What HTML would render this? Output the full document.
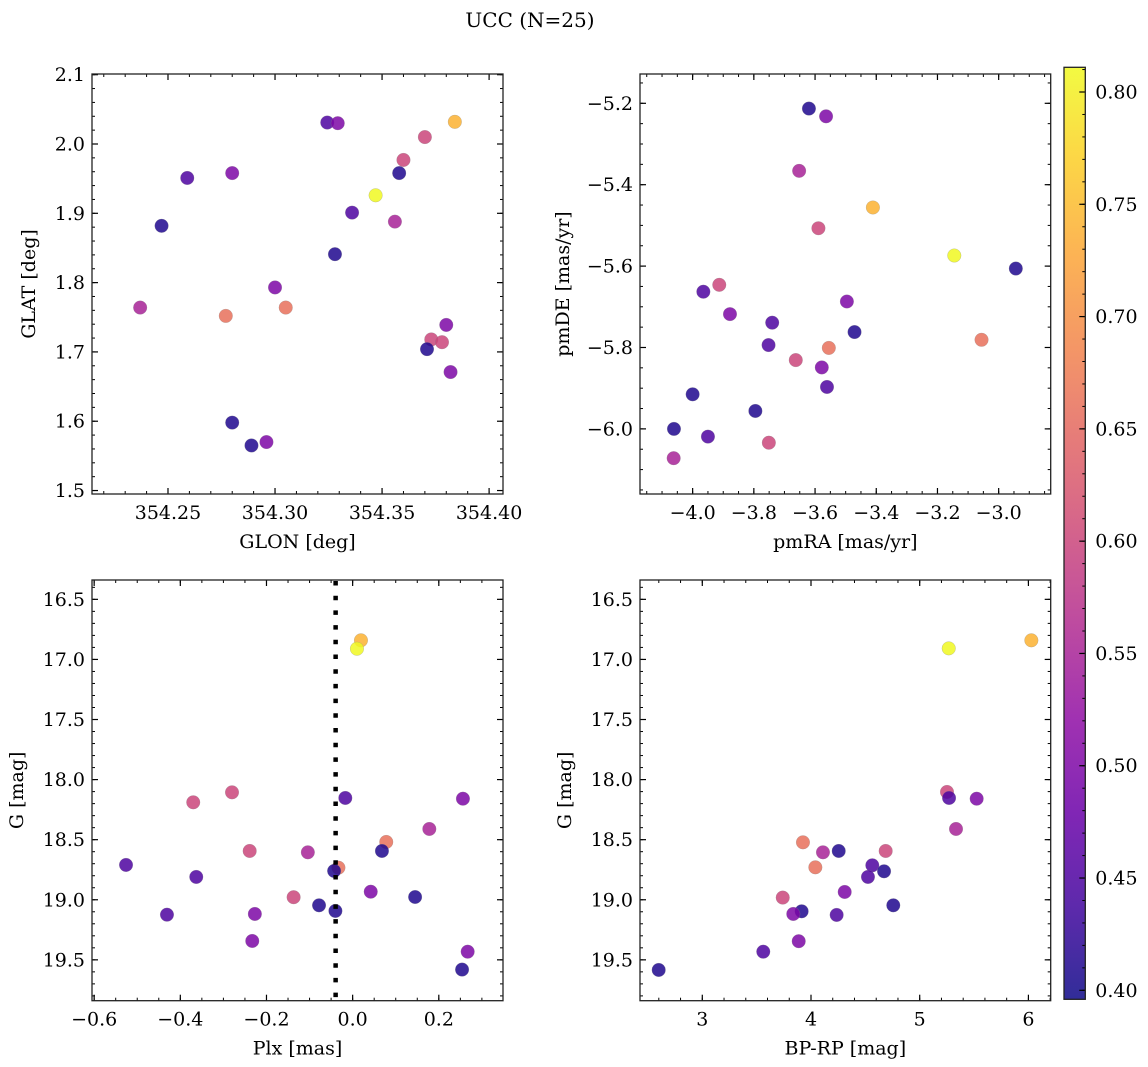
<!DOCTYPE html>
<html><head><meta charset="utf-8"><style>
html,body{margin:0;padding:0;background:#fff;}
svg{display:block;font-family:"DejaVu Serif","Liberation Serif",serif;}
</style></head><body>
<svg id="fig" width="1148" height="1067" viewBox="0 0 1148 1067" xmlns="http://www.w3.org/2000/svg">
<text x="530" y="27" font-size="20" text-anchor="middle">UCC (N=25)</text>
</svg>
<script>
// Panel 1: GLON vs GLAT
const glonX=[354.3244,354.3293,354.384,354.370,354.360,354.358,354.259,354.280,354.347,354.336,354.356,354.247,354.328,354.300,354.237,354.305,354.277,354.380,354.373,354.378,354.371,354.382,354.280,354.289,354.296];
const glatY=[2.031,2.030,2.032,2.010,1.977,1.958,1.951,1.958,1.926,1.901,1.888,1.882,1.841,1.793,1.764,1.764,1.752,1.739,1.718,1.714,1.704,1.671,1.598,1.565,1.570];
const posC=[0.45,0.50,0.74,0.60,0.60,0.41,0.45,0.50,0.81,0.45,0.55,0.41,0.41,0.50,0.55,0.66,0.66,0.50,0.60,0.60,0.41,0.50,0.41,0.41,0.50];
// Panel 2: proper motions
const pmraX=[-3.620,-3.564,-3.652,-3.411,-3.589,-3.145,-2.944,-3.913,-3.965,-3.496,-3.878,-3.740,-3.471,-3.056,-3.752,-3.555,-3.663,-3.578,-3.561,-4.000,-3.795,-4.061,-3.950,-3.751,-4.062];
const pmdeY=[-5.213,-5.232,-5.366,-5.456,-5.507,-5.574,-5.606,-5.646,-5.663,-5.687,-5.718,-5.739,-5.762,-5.781,-5.794,-5.801,-5.831,-5.849,-5.897,-5.915,-5.956,-6.000,-6.019,-6.034,-6.072];
const pmC=[0.41,0.50,0.55,0.74,0.60,0.81,0.41,0.60,0.45,0.50,0.50,0.45,0.41,0.66,0.45,0.66,0.60,0.50,0.45,0.41,0.41,0.41,0.45,0.60,0.55];
// Panel 3: Plx vs G
const plxX=[0.0193,0.0100,-0.280,-0.370,-0.017,0.256,0.178,0.078,0.068,-0.239,-0.104,-0.526,-0.033,-0.043,-0.363,0.042,0.145,-0.137,-0.078,-0.040,-0.431,-0.227,-0.233,0.267,0.254];
const plxG=[16.841,16.911,18.106,18.189,18.153,18.159,18.411,18.519,18.594,18.594,18.605,18.710,18.733,18.760,18.810,18.933,18.977,18.979,19.046,19.093,19.124,19.118,19.343,19.432,19.581];
const plxC=[0.74,0.81,0.60,0.60,0.45,0.50,0.55,0.66,0.41,0.60,0.55,0.45,0.66,0.41,0.45,0.50,0.41,0.60,0.41,0.41,0.45,0.50,0.50,0.50,0.41];
const plxLine=[-0.0395];
// Panel 4: CMD
const bprpX=[6.027,5.267,5.251,5.270,5.524,5.334,3.926,4.255,4.110,4.687,4.564,4.040,4.672,4.524,4.310,3.740,4.757,3.914,3.837,4.236,3.887,3.561,2.599];
const cmdG=[16.841,16.908,18.103,18.153,18.159,18.411,18.522,18.594,18.605,18.594,18.713,18.730,18.763,18.810,18.935,18.982,19.046,19.096,19.118,19.126,19.345,19.432,19.584];
const cmdC=[0.74,0.81,0.60,0.45,0.50,0.55,0.66,0.41,0.55,0.60,0.45,0.66,0.41,0.45,0.50,0.60,0.41,0.41,0.50,0.45,0.50,0.45,0.41];
// tick labels
const t1x=[354.25,354.30,354.35,354.40], t1y=[1.5,1.6,1.7,1.8,1.9,2.0,2.1];
const t2x=[-4.0,-3.8,-3.6,-3.4,-3.2,-3.0], t2y=[-6.0,-5.8,-5.6,-5.4,-5.2];
const t3x=[-0.6,-0.4,-0.2,0.0,0.2], tGy=[16.5,17.0,17.5,18.0,18.5,19.0,19.5];
const t4x=[3,4,5,6];
const cbTicks=[0.40,0.45,0.50,0.55,0.60,0.65,0.70,0.75,0.80];

const NS="http://www.w3.org/2000/svg";
const svg=document.getElementById('fig');
const FS=19;
function mk(tag,attrs,parent){const e=document.createElementNS(NS,tag);for(const k in attrs)e.setAttribute(k,attrs[k]);(parent||svg).appendChild(e);return e;}
const stops=[[13,8,135],[65,4,157],[106,0,168],[143,13,164],[177,42,144],[204,71,120],[225,100,98],[242,132,75],[252,166,54],[252,206,37],[240,249,33]];
const vmin=0.396,vmax=0.811;
function plasma(t){t=Math.max(0,Math.min(1,t))*10;const i=Math.min(9,Math.floor(t)),f=t-i;const a=stops[i],b=stops[i+1];return 'rgb('+[0,1,2].map(k=>Math.round(a[k]+(b[k]-a[k])*f)).join(',')+')';}
function cmap(v){return plasma((v-vmin)/(vmax-vmin));}
function fmt(v,d){const s=v.toFixed(d);return s.replace('-','\u2212');}

function panel(name,box,xr,yr,xt,yt,xd,yd,xminor,yminor,xlab,ylab,xs,ys,cs,ylabX,invertY){
  const [L,T,R,B]=box;
  const sx=v=>L+(v-xr[0])/(xr[1]-xr[0])*(R-L);
  const sy=invertY?(v=>T+(v-yr[0])/(yr[1]-yr[0])*(B-T)):(v=>B-(v-yr[0])/(yr[1]-yr[0])*(B-T));
  const g=mk('g',{});
  
  
  const eps=1e-9;
  for(let v=Math.ceil(xr[0]/xminor)*xminor;v<=xr[1]+eps;v+=xminor){const x=sx(v);mk('line',{x1:x,x2:x,y1:B,y2:B-3,stroke:'#000','stroke-width':1},g);mk('line',{x1:x,x2:x,y1:T,y2:T+3,stroke:'#000','stroke-width':1},g);}
  for(let v=Math.ceil(yr[0]/yminor)*yminor;v<=yr[1]+eps;v+=yminor){const y=sy(v);mk('line',{x1:L,x2:L+3,y1:y,y2:y,stroke:'#000','stroke-width':1},g);mk('line',{x1:R,x2:R-3,y1:y,y2:y,stroke:'#000','stroke-width':1},g);}
  xt.forEach(v=>{const x=sx(v);mk('line',{x1:x,x2:x,y1:B,y2:B-6,stroke:'#000','stroke-width':1.2},g);mk('line',{x1:x,x2:x,y1:T,y2:T+6,stroke:'#000','stroke-width':1.2},g);
    const t=mk('text',{x:x,y:B+25,'font-size':FS,'text-anchor':'middle'},g);t.textContent=fmt(v,xd);
    
    });
  yt.forEach(v=>{const y=sy(v);mk('line',{x1:L,x2:L+6,y1:y,y2:y,stroke:'#000','stroke-width':1.2},g);mk('line',{x1:R,x2:R-6,y1:y,y2:y,stroke:'#000','stroke-width':1.2},g);
    const t=mk('text',{x:L-7,y:y+6.5,'font-size':FS,'text-anchor':'end'},g);t.textContent=fmt(v,yd);
    
    });
  const xl=mk('text',{x:(L+R)/2,y:B+54,'font-size':FS,'text-anchor':'middle'},g);xl.textContent=xlab;
  
  
  const yl=mk('text',{x:ylabX,y:(T+B)/2,'font-size':FS,'text-anchor':'middle',transform:'rotate(-90 '+ylabX+' '+(T+B)/2+')'},g);yl.textContent=ylab;
  
  
  const pts=mk('g',{},g);
  
  
  xs.forEach((v,i)=>{const c=mk('circle',{cx:sx(v),cy:sy(ys[i]),r:6.8,fill:cmap(cs[i]),'fill-opacity':0.85,stroke:'#888','stroke-width':0.4,'stroke-opacity':0.6},pts);
    
    });
  const fr=mk('rect',{x:L,y:T,width:R-L,height:B-T,fill:'none',stroke:'#222','stroke-width':1.3},g);
  
  
  return {sx,sy,g};
}
panel('panel-glon-glat',[92,74,503,494],[354.2145,354.4065],[1.495,2.101],t1x,t1y,2,1,0.01,0.02,'GLON [deg]','GLAT [deg]',glonX,glatY,posC,35,false);
panel('panel-proper-motion',[640,74,1050.7,494],[-4.172,-2.830],[-6.160,-5.128],t2x,t2y,1,1,0.05,0.05,'pmRA [mas/yr]','pmDE [mas/yr]',pmraX,pmdeY,pmC,569,false);
const p3=panel('panel-plx-g',[92,580,503,1000.7],[-0.605,0.349],[16.339,19.84],t3x,tGy,1,1,0.05,0.1,'Plx [mas]','G [mag]',plxX,plxG,plxC,23,true);
plxLine.forEach(v=>{const x=p3.sx(v);const l=mk('line',{x1:x,x2:x,y1:581,y2:1000,stroke:'#000','stroke-width':4.5,'stroke-dasharray':'4.5,10.2'},p3.g);
  
  });
panel('panel-cmd',[640,580,1050.7,1000.7],[2.427,6.205],[16.339,19.84],t4x,tGy,0,1,0.2,0.1,'BP-RP [mag]','G [mag]',bprpX,cmdG,cmdC,571,true);

// colorbar
const cb=mk('g',{});


const CL=1064,CR=1085.3,CT=67.3,CB=999.3;
const defs=mk('defs',{},cb);const lg=mk('linearGradient',{id:'cbg',x1:0,y1:1,x2:0,y2:0},defs);
for(let i=0;i<=20;i++){mk('stop',{offset:i/20,'stop-color':plasma(i/20),'stop-opacity':0.85},lg);}
mk('rect',{x:CL,y:CT,width:CR-CL,height:CB-CT,fill:'url(#cbg)'},cb);
const cy=v=>CB-(v-vmin)/(vmax-vmin)*(CB-CT);
for(let v=0.40;v<=0.811;v+=0.01){mk('line',{x1:CR,x2:CR-3,y1:cy(v),y2:cy(v),stroke:'#000','stroke-width':1},cb);}
cbTicks.forEach(v=>{const y=cy(v);mk('line',{x1:CR,x2:CR-6,y1:y,y2:y,stroke:'#000','stroke-width':1.2},cb);
  const t=mk('text',{x:CR+10,y:y+6.5,'font-size':FS},cb);t.textContent=v.toFixed(2);
  
  });
mk('rect',{x:CL,y:CT,width:CR-CL,height:CB-CT,fill:'none',stroke:'#222','stroke-width':1.3},cb);
</script>
</body></html>
